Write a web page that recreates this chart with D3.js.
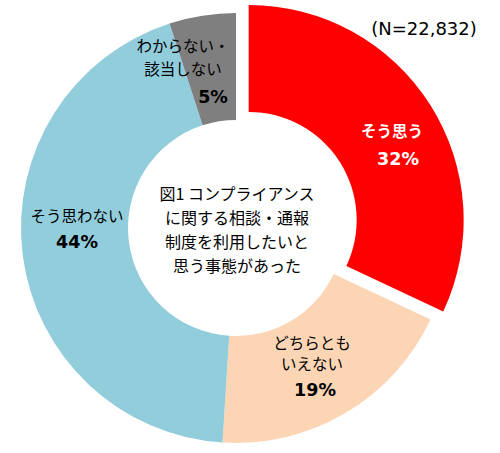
<!DOCTYPE html>
<html><head><meta charset="utf-8">
<script src="https://cdn.jsdelivr.net/npm/d3@7"></script>
<style>body{margin:0;background:#fff}svg{display:block}</style>
</head><body>
<svg id="c" width="500" height="453"></svg>
<script>
const categories = ["そう思う", "どちらとも\nいえない", "そう思わない", "わからない・\n該当しない"];
const values = [32, 19, 44, 5];
const colors = ["#FF0000", "#FCD5B5", "#92CDDC", "#7F7F7F"];
const title = ["図1 コンプライアンス", "に関する相談・通報", "制度を利用したいと", "思う事態があった"];
const note = "(N=22,832)";

const W = 500, H = 453, cx = 236, cy = 228, R = 215, r = 108, explode = 15;
const svg = d3.select("#c");
const g = svg.append("g").attr("transform", `translate(${cx},${cy})`);
const pie = d3.pie().sort(null).value(d => d).startAngle(0).endAngle(2 * Math.PI);
const arcs = pie(values);
const arc = d3.arc().innerRadius(r).outerRadius(R);

// per-slice label layout (relative to chart centre)
const layout = [
  {x: 156, y: -98, gap: 22, pgap: 29, pdx: 6, fill: "#fff", jp: "bold"},
  {x: 76, y: 114, gap: 21, pgap: 27, pdx: 3, fill: "#000", jp: "normal"},
  {x: -159, y: -13, gap: 22, pgap: 27, pdx: 0, fill: "#000", jp: "normal"},
  {x: -53, y: -183, gap: 23, pgap: 29, pdx: 30, fill: "#000", jp: "normal"}
];

arcs.forEach((a, i) => {
  const mid = (a.startAngle + a.endAngle) / 2;
  const off = i === 0 ? explode : 0;
  const dx = off * Math.sin(mid), dy = -off * Math.cos(mid);
  g.append("path").attr("d", arc(a)).attr("fill", colors[i])
    .attr("transform", `translate(${dx},${dy})`);
});

arcs.forEach((a, i) => {
  const L = layout[i];
  const lines = categories[i].split("\n");
  const t = g.append("g");
  lines.forEach((ln, k) => {
    t.append("text").attr("x", L.x).attr("y", L.y + k * L.gap)
      .attr("text-anchor", "middle").attr("dominant-baseline", "central")
      .attr("font-family", "'Noto Sans CJK JP', sans-serif")
      .attr("font-size", 15.5).attr("font-weight", L.jp).attr("fill", L.fill).text(ln);
  });
  t.append("text").attr("x", L.x + L.pdx).attr("y", L.y + (lines.length - 1) * L.gap + L.pgap)
    .attr("text-anchor", "middle").attr("dominant-baseline", "central")
    .attr("font-family", "'DejaVu Sans', Verdana, sans-serif")
    .attr("font-size", 17.5).attr("font-weight", "bold").attr("fill", L.fill)
    .text(values[i] + "%");
});

title.forEach((ln, k) => {
  g.append("text").attr("x", 1).attr("y", -35 + k * 24)
    .attr("text-anchor", "middle").attr("dominant-baseline", "central")
    .attr("font-family", "'Noto Sans CJK JP', sans-serif")
    .attr("font-size", 16).attr("fill", "#000").text(ln);
});

svg.append("text").attr("x", 424).attr("y", 28)
  .attr("text-anchor", "middle").attr("dominant-baseline", "central")
  .attr("font-family", "'DejaVu Sans', Verdana, sans-serif")
  .attr("font-size", 18).attr("fill", "#000").text(note);
</script>
</body></html>
